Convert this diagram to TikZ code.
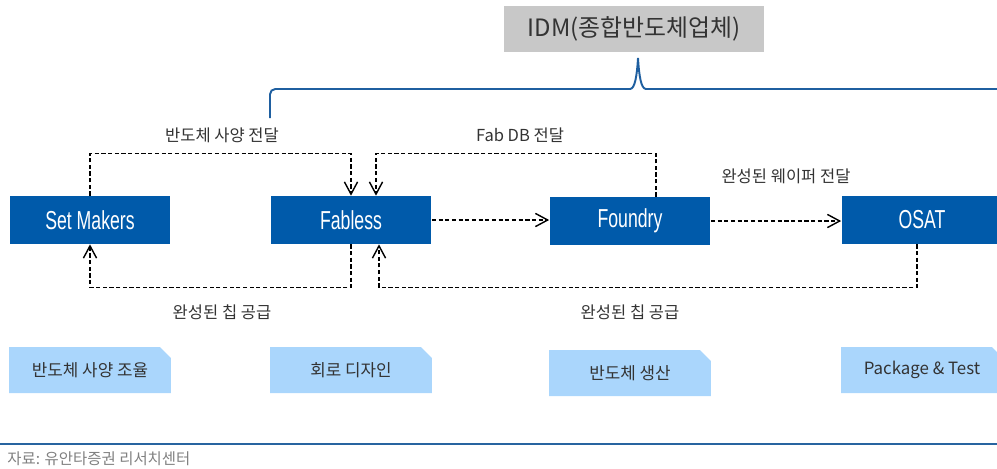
\documentclass[tikz,border=0pt]{standalone}
\usepackage{fontspec}
\setmainfont{Noto Sans CJK KR}
\newfontfamily\narrowfont[FakeStretch=0.68]{Liberation Sans}
\usetikzlibrary{arrows.meta,calc,shapes.misc}
\definecolor{mainblue}{RGB}{0,90,170}
\definecolor{paleblue}{RGB}{170,214,252}
\definecolor{idmgray}{RGB}{200,200,200}
\definecolor{bracecol}{RGB}{31,95,160}
\definecolor{txtgray}{RGB}{51,51,51}
\definecolor{footblue}{RGB}{40,100,160}
\begin{document}
\begin{tikzpicture}[x=0.02cm,y=-0.02cm,
    player/.style={fill=mainblue,text=white,minimum width=3.22cm,minimum height=0.96cm,inner sep=0pt,font=\narrowfont\fontsize{14.8}{16}\selectfont},
    rolebox/.style={chamfered rectangle,chamfered rectangle corners=north east,chamfered rectangle xsep=0.1cm,chamfered rectangle ysep=0.12cm,fill=paleblue,text=txtgray,minimum width=3.24cm,minimum height=0.92cm,inner sep=0pt,font=\fontsize{9.6}{11}\selectfont},
    flowlabel/.style={text=txtgray,inner sep=1pt,font=\fontsize{9.4}{11}\selectfont},
    flow/.style={draw=black,line width=0.8pt,dash pattern=on 2.4pt off 1.4pt,-{Straight Barb[length=7pt,width=7.5pt,line width=0.8pt]}}]
    \useasboundingbox (0,0) rectangle (997,468);
    \clip (0,0) rectangle (997,468);
    % IDM and its brace
    \node [fill=idmgray,text=txtgray,minimum width=5.2cm,minimum height=0.92cm,inner sep=0pt,font=\fontsize{13.6}{15}\selectfont] (idm) at (634,29) {IDM(종합반도체업체)};
    \draw [bracecol,line width=1.1pt] (270,118) [rounded corners=3pt] -- (270,89) [sharp corners] -- (630,89) .. controls (635,89) and (637,75) .. (638,58) .. controls (639,75) and (641,89) .. (646,89) -- (997,89);
    % players
    \node [player] (sm) at (90,220) {Set Makers};
    \node [player] (fab) at (351,220) {Fabless};
    \node [player] (fdy) at (630,221) {Foundry};
    \node [player] (osat) at (922,220) {OSAT};
    % flows
    \draw [flow] (sm.north) -- ++(0,-42) -| (fab.north);
    \draw [flow] ($(fdy.north)+(26,0)$) -- ++(0,-43) -| ($(fab.north)+(25,0)$);
    \draw [flow] (fab.east) -- (fab.east -| fdy.west);
    \draw [flow] (fdy.east) -- (fdy.east -| osat.west);
    \draw [flow] (fab.south) -- ++(0,43) -| (sm.south);
    \draw [flow] ($(osat.south)+(-5,0)$) -- ++(0,43) -| ($(fab.south)+(28,0)$);
    \node [flowlabel] (specmsg) at (222,135) {반도체 사양 전달};
    \node [flowlabel] (dbmsg) at (520,135) {Fab DB 전달};
    \node [flowlabel] (wafermsg) at (786,176) {완성된 웨이퍼 전달};
    \node [flowlabel] (chipmsga) at (222,312) {완성된 칩 공급};
    \node [flowlabel] (chipmsgb) at (630,312) {완성된 칩 공급};
    % roles
    \node [rolebox] (tuning) at (90,370) {반도체 사양 조율};
    \node [rolebox] (design) at (351,370) {회로 디자인};
    \node [rolebox] (fabric) at (630,373) {반도체 생산};
    \node [rolebox] (packtest) at (922,370) {Package \& Test};
    % source
    \draw [footblue,line width=1.2pt] (0,444) -- (997,444);
    \node [anchor=west,text=gray,inner sep=0pt,font=\fontsize{8.8}{10}\selectfont] (source) at (7,459) {자료: 유안타증권 리서치센터};
\end{tikzpicture}
\end{document}
